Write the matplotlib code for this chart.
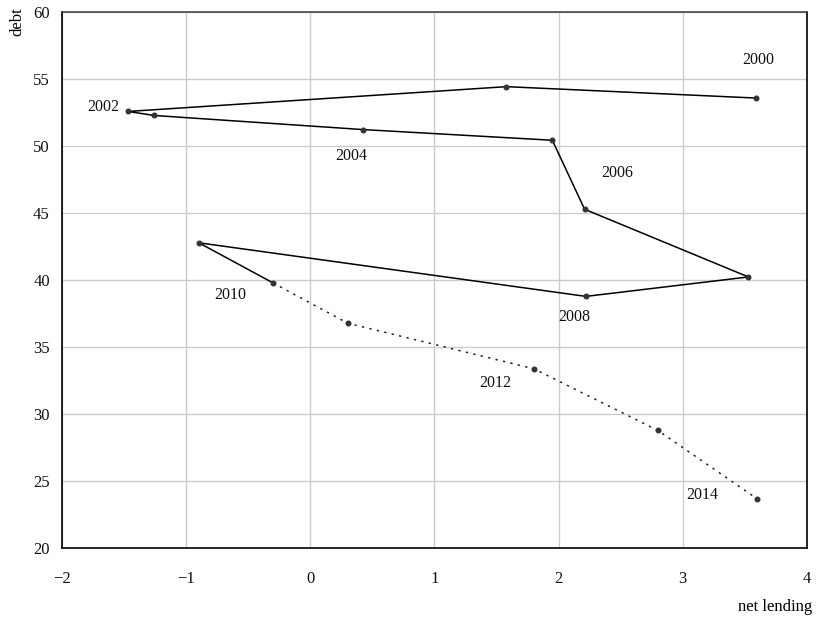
import matplotlib
matplotlib.use("Agg")
import matplotlib.pyplot as plt

years = [2000, 2001, 2002, 2003, 2004, 2005, 2006, 2007, 2008, 2009, 2010, 2011, 2012, 2013, 2014]
net_lending = [3.59, 1.58, -1.47, -1.26, 0.42, 1.95, 2.21, 3.53, 2.22, -0.9, -0.3, 0.3, 1.8, 2.8, 3.6]
debt = [53.6, 54.45, 52.6, 52.3, 51.25, 50.45, 45.3, 40.25, 38.8, 42.8, 39.8, 36.8, 33.4, 28.8, 23.7]

labeled_years = [2000, 2002, 2004, 2006, 2008, 2010, 2012, 2014]
label_offsets = [(2, 38), (-25, 4), (-11, -26), (33, 36), (-12, -21), (-43, -12), (-38, -14), (-55, 4)]

x_ticks = [-2, -1, 0, 1, 2, 3, 4]
y_ticks = [20, 25, 30, 35, 40, 45, 50, 55, 60]

plt.rcParams['font.family'] = ['Liberation Serif', 'DejaVu Serif']

fig = plt.figure(figsize=(8.24, 6.17), dpi=100)
ax = fig.add_axes([0.0756, 0.1113, 0.9034, 0.8688])

split = years.index(2010)
ax.plot(net_lending[:split + 1], debt[:split + 1], color='black', lw=1.1, zorder=3)
ax.plot(net_lending[split:], debt[split:], color='#222222', lw=1.1, linestyle=(0, (1.5, 3.5)), zorder=3)
ax.plot(net_lending, debt, linestyle='none', marker='o', ms=3.3, color='#333333', zorder=4)

for yr, (dx, dy) in zip(labeled_years, label_offsets):
    i = years.index(yr)
    ax.annotate(str(yr), (net_lending[i], debt[i]), xytext=(dx, dy), textcoords='offset pixels',
                ha='center', va='center', fontsize=11.5, color='#111111')

ax.set_xlim(-2, 4)
ax.set_ylim(20, 60)
ax.set_xticks(x_ticks)
ax.set_yticks(y_ticks)
ax.tick_params(axis='both', length=0, labelsize=12, colors='#111111')
ax.tick_params(axis='x', pad=16)
ax.tick_params(axis='y', pad=9)
ax.grid(True, color='#cccccc', lw=1)
ax.set_axisbelow(True)
for s in ['left', 'bottom', 'right']:
    ax.spines[s].set_color('black')
    ax.spines[s].set_linewidth(1.2)
ax.spines['top'].set_color('#444444')
ax.spines['top'].set_linewidth(1.2)

fig.text(0.021, 0.965, 'debt', rotation=90, ha='center', va='center', fontsize=12)
fig.text(0.941, 0.016, 'net lending', ha='center', va='center', fontsize=12)

fig.savefig('out.png', dpi=100)
